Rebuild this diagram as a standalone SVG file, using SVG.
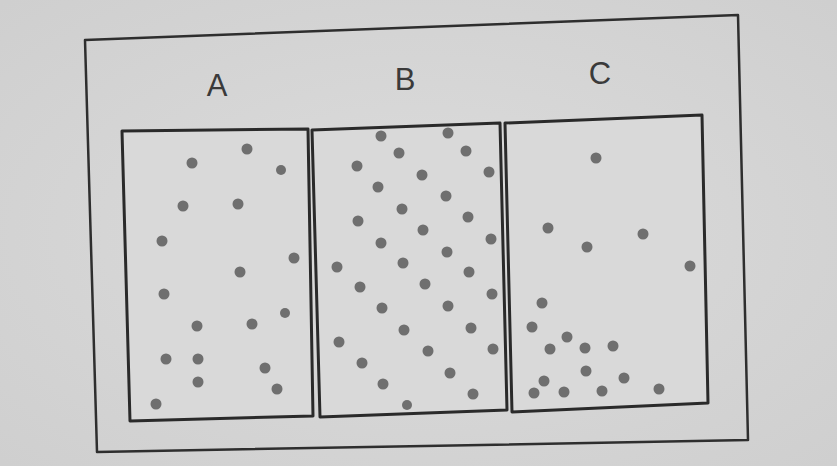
<svg xmlns="http://www.w3.org/2000/svg" width="837" height="466" viewBox="0 0 837 466">
<defs>
<style>
.frame{fill:none;stroke:#2e2e2e;stroke-width:2.5;stroke-linejoin:round}
.box{fill:#d9d9d9;stroke:#2a2a2a;stroke-width:3;stroke-linejoin:round}
.lbl{font-family:"Liberation Sans",Arial,sans-serif;font-size:31px;fill:#3a3a3a;text-anchor:middle}
.d{fill:#6f6f6f}
</style>
<radialGradient id="bg" cx="0.5" cy="0.5" r="0.7">
<stop offset="0" stop-color="#dcdcdc"/>
<stop offset="1" stop-color="#cfcfcf"/>
</radialGradient>
</defs>
<rect width="837" height="466" fill="url(#bg)"/>
<polygon id="outer-frame" class="frame" points="85,40 738,15 748,440 97,452"/>
<g id="labels">
<text class="lbl" x="217" y="96">A</text>
<text class="lbl" x="405" y="90">B</text>
<text class="lbl" x="600" y="84">C</text>
</g>
<g id="box-A">
<polygon class="box" points="122,131 308,129 313,416 130,421"/>
<g class="d">
<circle cx="247" cy="149" r="5.5"/><circle cx="192" cy="163" r="5.5"/><circle cx="281" cy="170" r="5"/>
<circle cx="183" cy="206" r="5.5"/><circle cx="238" cy="204" r="5.5"/><circle cx="162" cy="241" r="5.5"/>
<circle cx="294" cy="258" r="5.5"/><circle cx="240" cy="272" r="5.5"/><circle cx="164" cy="294" r="5.5"/>
<circle cx="285" cy="313" r="5"/><circle cx="197" cy="326" r="5.5"/><circle cx="252" cy="324" r="5.5"/>
<circle cx="166" cy="359" r="5.5"/><circle cx="198" cy="359" r="5.5"/><circle cx="265" cy="368" r="5.5"/>
<circle cx="198" cy="382" r="5.5"/><circle cx="277" cy="389" r="5.5"/><circle cx="156" cy="404" r="5.5"/>
</g>
</g>
<g id="box-B">
<polygon class="box" points="312,130 500,123 507,410 320,417"/>
<g class="d">
<circle cx="381" cy="136" r="5.5"/><circle cx="448" cy="133" r="5.5"/><circle cx="399" cy="153" r="5.5"/>
<circle cx="466" cy="151" r="5.5"/><circle cx="357" cy="166" r="5.5"/><circle cx="489" cy="172" r="5.5"/>
<circle cx="422" cy="175" r="5.5"/><circle cx="378" cy="187" r="5.5"/><circle cx="446" cy="196" r="5.5"/>
<circle cx="402" cy="209" r="5.5"/><circle cx="358" cy="221" r="5.5"/><circle cx="468" cy="217" r="5.5"/>
<circle cx="423" cy="230" r="5.5"/><circle cx="381" cy="243" r="5.5"/><circle cx="491" cy="239" r="5.5"/>
<circle cx="447" cy="252" r="5.5"/><circle cx="337" cy="267" r="5.5"/><circle cx="403" cy="263" r="5.5"/>
<circle cx="469" cy="272" r="5.5"/><circle cx="360" cy="287" r="5.5"/><circle cx="425" cy="284" r="5.5"/>
<circle cx="492" cy="294" r="5.5"/><circle cx="382" cy="308" r="5.5"/><circle cx="448" cy="306" r="5.5"/>
<circle cx="404" cy="330" r="5.5"/><circle cx="471" cy="328" r="5.5"/><circle cx="339" cy="342" r="5.5"/>
<circle cx="428" cy="351" r="5.5"/><circle cx="493" cy="349" r="5.5"/><circle cx="362" cy="363" r="5.5"/>
<circle cx="450" cy="373" r="5.5"/><circle cx="383" cy="384" r="5.5"/><circle cx="473" cy="394" r="5.5"/>
<circle cx="407" cy="405" r="5"/>
</g>
</g>
<g id="box-C">
<polygon class="box" points="505,123 702,115 708,403 512,412"/>
<g class="d">
<circle cx="596" cy="158" r="5.5"/><circle cx="548" cy="228" r="5.5"/><circle cx="643" cy="234" r="5.5"/>
<circle cx="587" cy="247" r="5.5"/><circle cx="690" cy="266" r="5.5"/><circle cx="542" cy="303" r="5.5"/>
<circle cx="532" cy="327" r="5.5"/><circle cx="567" cy="337" r="5.5"/><circle cx="550" cy="349" r="5.5"/>
<circle cx="585" cy="348" r="5.5"/><circle cx="613" cy="346" r="5.5"/><circle cx="586" cy="371" r="5.5"/>
<circle cx="544" cy="381" r="5.5"/><circle cx="624" cy="378" r="5.5"/><circle cx="534" cy="393" r="5.5"/>
<circle cx="564" cy="392" r="5.5"/><circle cx="602" cy="391" r="5.5"/><circle cx="659" cy="389" r="5.5"/>
</g>
</g>
</svg>
